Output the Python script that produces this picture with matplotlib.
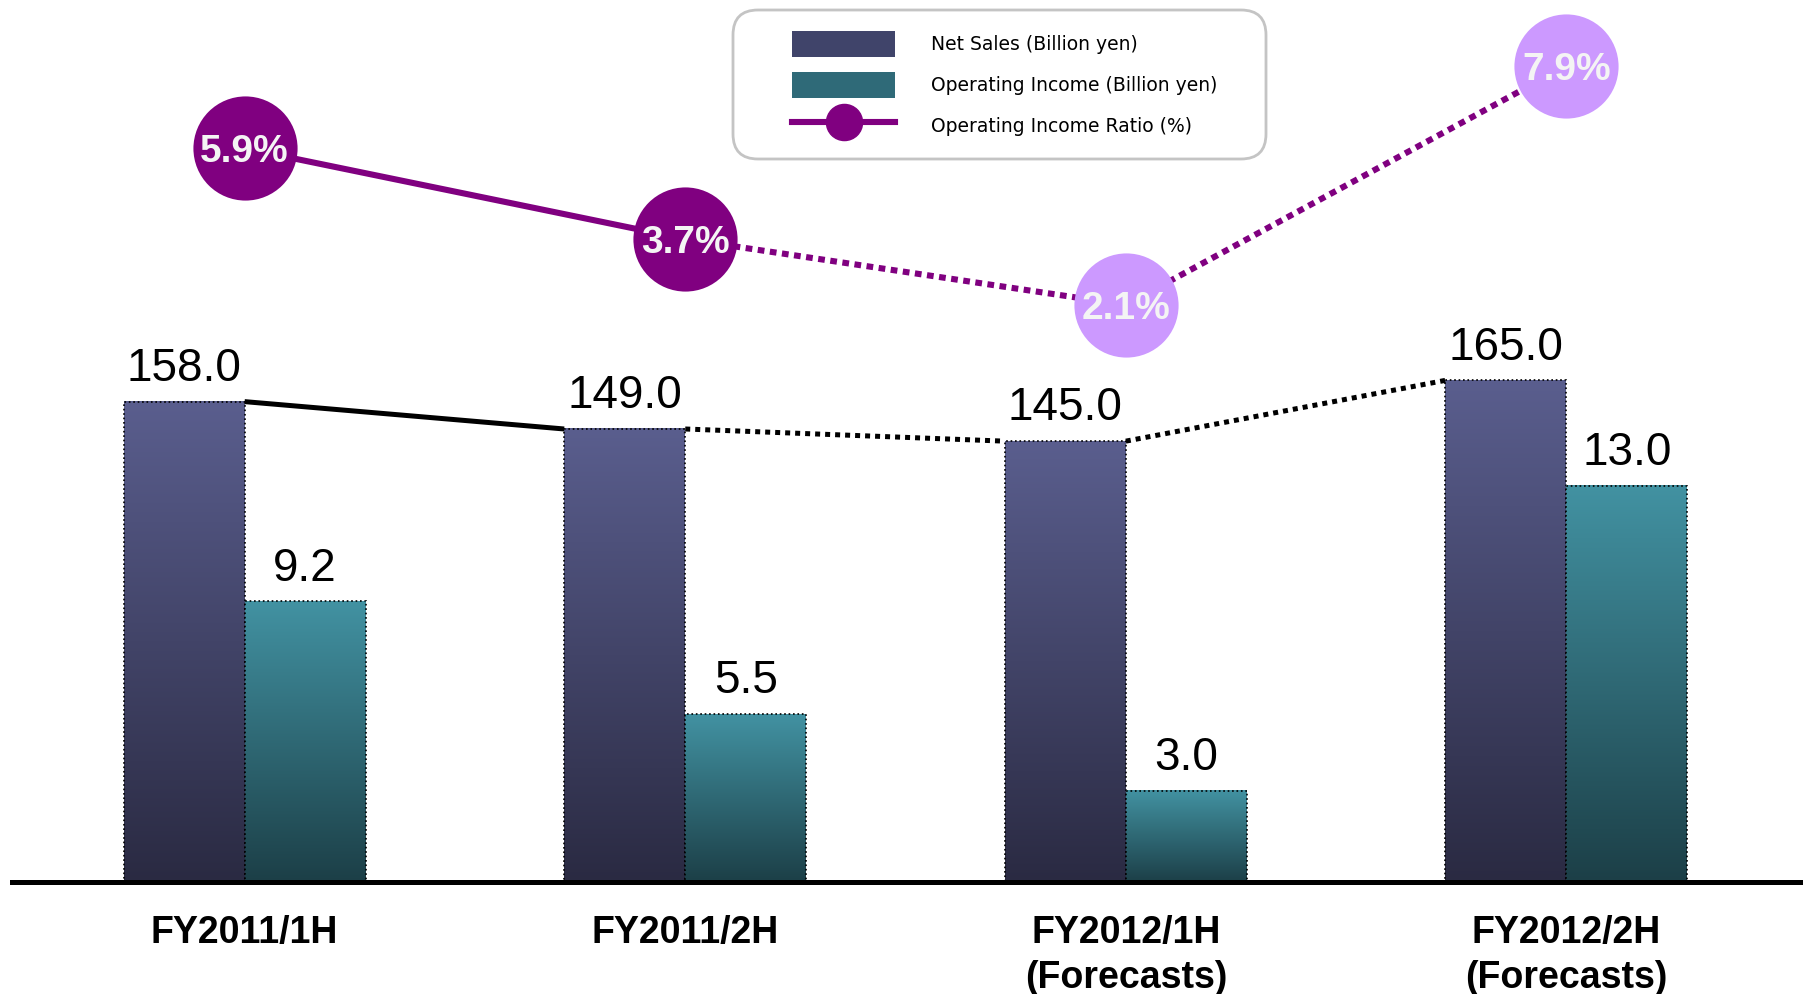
import numpy as np
import matplotlib.pyplot as plt
from matplotlib.colors import LinearSegmentedColormap
from matplotlib.patches import Patch, FancyBboxPatch
from matplotlib.lines import Line2D

plt.rcParams['font.family'] = ['Liberation Sans', 'DejaVu Sans']

# data
periods = ['FY2011/1H', 'FY2011/2H', 'FY2012/1H\n(Forecasts)', 'FY2012/2H\n(Forecasts)']
net_sales = [158.0, 149.0, 145.0, 165.0]      # billion yen
op_income = [9.2, 5.5, 3.0, 13.0]             # billion yen
op_ratio = [5.9, 3.7, 2.1, 7.9]               # %
is_forecast = [False, False, True, True]

purple = '#800080'
light_purple = '#cc99ff'
net_top, net_bot = '#5a5e8e', '#2a2a42'
op_top, op_bot = '#4292a2', '#1c3f47'

fig = plt.figure(figsize=(18.03, 9.94), dpi=100)
ax = fig.add_axes([12 / 1803, 112 / 994, 1791 / 1803, 882 / 994])
ax2 = ax.twinx()
ax3 = ax.twinx()

x = np.arange(len(periods))
w = 0.2746


def grad_fill(axis, bars, c_top, c_bot):
    cmap = LinearSegmentedColormap.from_list('g', [c_top, c_bot])
    grad = np.linspace(0, 1, 256).reshape(-1, 1)
    for b in bars:
        x0, y0 = b.get_x(), b.get_y()
        axis.imshow(grad, cmap=cmap, aspect='auto', origin='upper',
                    extent=[x0, x0 + b.get_width(), y0, y0 + b.get_height()],
                    zorder=1.5, interpolation='bicubic')


b1 = ax.bar(x - w / 2, net_sales, w, facecolor='none', edgecolor='black',
            linestyle=':', linewidth=1.2, zorder=3)
b2 = ax2.bar(x + w / 2, op_income, w, facecolor='none', edgecolor='black',
             linestyle=':', linewidth=1.2, zorder=3)
grad_fill(ax, b1, net_top, net_bot)
grad_fill(ax2, b2, op_top, op_bot)

# connector between net sales bars
for i in range(len(x) - 1):
    ls = (0, (1, 1)) if is_forecast[i + 1] else '-'
    ax.plot([x[i], x[i + 1] - w], [net_sales[i], net_sales[i + 1]],
            color='black', lw=3.6, linestyle=ls, solid_capstyle='butt',
            dash_capstyle='butt', zorder=2)

for xi, v in zip(x, net_sales):
    ax.annotate(f'{v:.1f}', (xi - w / 2, v), xytext=(0, 15), textcoords='offset points',
                ha='center', va='baseline', fontsize=33)
for xi, v in zip(x, op_income):
    ax2.annotate(f'{v:.1f}', (xi + w / 2, v), xytext=(0, 15), textcoords='offset points',
                 ha='center', va='baseline', fontsize=33)

# ratio line
for i in range(len(x) - 1):
    ls = (0, (1.1, 0.9)) if is_forecast[i + 1] else '-'
    ax3.plot([x[i], x[i + 1]], [op_ratio[i], op_ratio[i + 1]], color=purple,
             lw=4.4, linestyle=ls, dash_capstyle='butt', zorder=2)
for xi, r, fc in zip(x, op_ratio, is_forecast):
    ax3.plot(xi, r, 'o', ms=75, color=light_purple if fc else purple,
             markeredgewidth=0, zorder=3)
    ax3.annotate(f'{r}%', (xi, r), xytext=(0, -10), textcoords='offset points',
                 ha='center', va='baseline', fontsize=28, fontweight='bold',
                 color='#f4f4f4', zorder=4)

ax2.axhline(0, color='black', lw=3.6, zorder=5, clip_on=False)

ax.set_xlim(-0.528, 3.537)
ax.set_ylim(0, 290.1)
ax2.set_ylim(0, 28.92)
ax3.set_ylim(-11.905, 9.50)

ax.set_xticks(x, periods, fontsize=27, fontweight='bold', linespacing=1.3)
ax.tick_params(axis='x', length=0, pad=24)
for a in (ax, ax2, ax3):
    a.set_yticks([])
    for s in a.spines.values():
        s.set_visible(False)
    a.patch.set_visible(False)

# legend
box = FancyBboxPatch((7.33, 8.35), 5.33, 1.49, boxstyle='round,pad=0,rounding_size=0.25',
                     transform=fig.dpi_scale_trans, facecolor='white',
                     edgecolor='#c4c4c4', linewidth=2)
fig.add_artist(box)
handles = [Patch(facecolor='#40446a', edgecolor='none'),
           Patch(facecolor='#2f6a78', edgecolor='none'),
           Line2D([], [], color=purple, lw=4.4, marker='o', ms=26)]
labels = ['Net Sales (Billion yen)', 'Operating Income (Billion yen)',
          'Operating Income Ratio (%)']
leg = fig.legend(handles, labels, loc='upper left', bbox_to_anchor=(792 / 1803, 1 - 31 / 994),
                 prop={'family': 'DejaVu Sans', 'size': 13.5}, handlelength=5.5,
                 handleheight=1.75, labelspacing=0.8, handletextpad=1.9,
                 borderpad=0, borderaxespad=0, frameon=False)

fig.savefig('out.png', dpi=100)
